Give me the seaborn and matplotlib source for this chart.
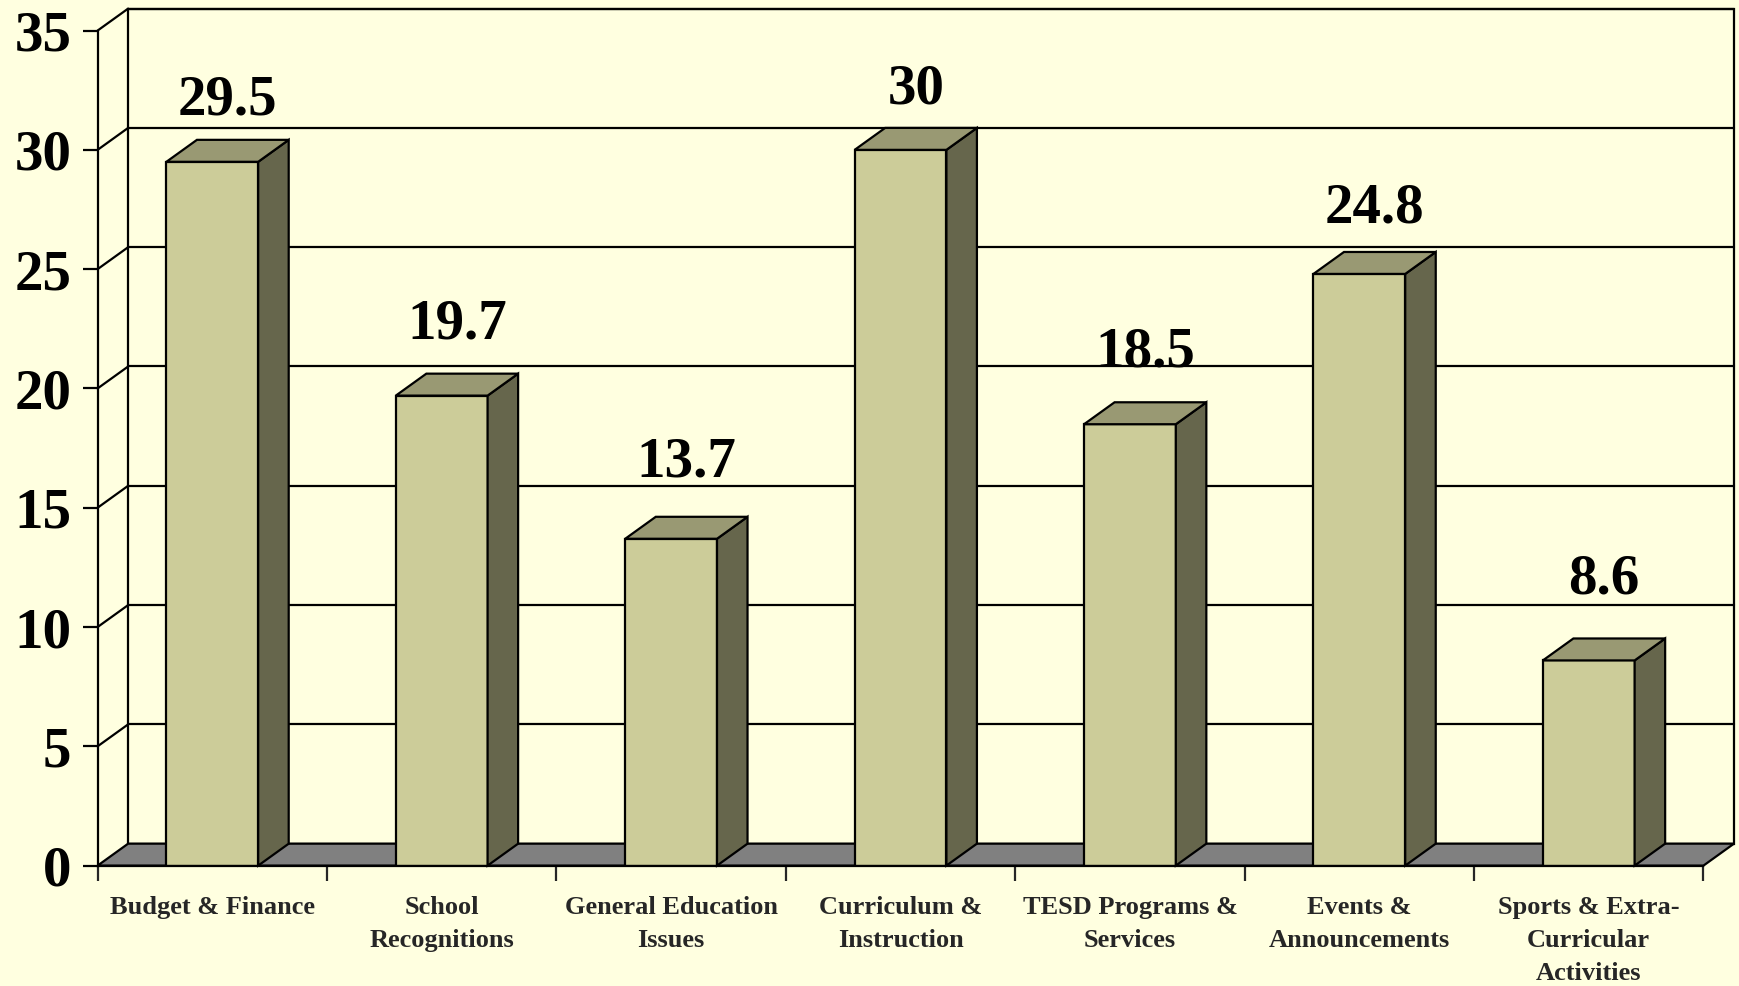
import numpy as np
import pandas as pd
import matplotlib
matplotlib.use("Agg")
import matplotlib.pyplot as plt
from matplotlib.patches import Polygon
import seaborn as sns

categories = ["Budget & Finance", "School\nRecognitions", "General Education\nIssues",
              "Curriculum &\nInstruction", "TESD Programs &\nServices", "Events &\nAnnouncements",
              "Sports & Extra-\nCurricular\nActivities"]
values = [29.5, 19.7, 13.7, 30, 18.5, 24.8, 8.6]
value_labels = ["29.5", "19.7", "13.7", "30", "18.5", "24.8", "8.6"]
yticks = [0, 5, 10, 15, 20, 25, 30, 35]

BG = "#FFFFE0"
FRONT = "#CCCC99"
TOP = "#999973"
SIDE = "#66664C"
FLOOR = "#808080"
LW = 1.6

sns.set_style("white")
plt.rcParams["font.family"] = ["Liberation Serif", "DejaVu Serif"]
plt.rcParams["font.weight"] = "bold"

df = pd.DataFrame({"topic": categories, "pct": values})

fig = plt.figure(figsize=(17.4, 9.86), dpi=100, facecolor=BG)
ax = fig.add_axes([0.0561, 0.1221, 0.979 - 0.0561, 0.969 - 0.1221])
ax.set_facecolor("none")

sns.barplot(data=df, x="topic", y="pct", color=FRONT, saturation=1, width=0.4,
            edgecolor="black", linewidth=LW, ax=ax, zorder=3)
ax.set_xlim(-0.5, 6.5)
ax.set_ylim(0, 35)

# depth offsets in data units
dx = 0.133
dy = 0.92
ymax = 35
x0, x1 = -0.5, 6.5

# back wall
ax.add_patch(Polygon([(x0 + dx, dy), (x1 + dx, dy), (x1 + dx, ymax + dy), (x0 + dx, ymax + dy)],
                     closed=True, facecolor=BG, edgecolor="black", lw=LW, clip_on=False, zorder=0.5))
for t in yticks[1:]:
    ax.plot([x0 + dx, x1 + dx], [t + dy, t + dy], color="black", lw=LW, clip_on=False, zorder=0.6)
    ax.plot([x0, x0 + dx], [t, t + dy], color="black", lw=LW, clip_on=False, zorder=0.6)
# floor
ax.add_patch(Polygon([(x0, 0), (x1, 0), (x1 + dx, dy), (x0 + dx, dy)],
                     closed=True, facecolor=FLOOR, edgecolor="black", lw=LW, clip_on=False, zorder=1))

for p, lab, v in zip(ax.containers[0].patches, value_labels, values):
    bx = p.get_x()
    bw = p.get_width()
    h = p.get_height()
    side = Polygon([(bx + bw, 0), (bx + bw + dx, dy), (bx + bw + dx, h + dy), (bx + bw, h)],
                   closed=True, facecolor=SIDE, edgecolor="black", lw=LW, clip_on=False, zorder=3)
    top = Polygon([(bx, h), (bx + bw, h), (bx + bw + dx, h + dy), (bx + dx, h + dy)],
                  closed=True, facecolor=TOP, edgecolor="black", lw=LW, clip_on=False, zorder=3)
    ax.add_patch(side)
    ax.add_patch(top)
    ax.text(bx + bw / 2 + dx / 2, h + 3.75 - 0.04 * h, lab, ha="center", va="center",
            fontsize=41, fontweight="bold", color="black", zorder=5)

for s in ["top", "right"]:
    ax.spines[s].set_visible(False)
for s in ["left", "bottom"]:
    ax.spines[s].set_linewidth(LW)
    ax.spines[s].set_color("black")
    ax.spines[s].set_zorder(4)

ax.set_yticks(yticks)
ax.set_yticklabels([str(t) for t in yticks])
ax.tick_params(axis="y", direction="out", length=10.8, width=LW, pad=8,
               labelsize=41, colors="black", left=True)

ax.set_xticks(np.arange(-0.5, 7, 1.0))
ax.set_xticklabels([""] * 8)
ax.set_xticks(np.arange(7), minor=True)
ax.set_xticklabels(categories, minor=True, fontsize=19, fontweight="bold", linespacing=1.54)
ax.tick_params(axis="x", which="major", direction="out", length=10.8, width=LW, bottom=True)
ax.tick_params(axis="x", which="minor", length=0, pad=22, bottom=True)
ax.set_xlabel("")
ax.set_ylabel("")
ax.grid(False)

fig.savefig("out.png", dpi=100, facecolor=BG)
